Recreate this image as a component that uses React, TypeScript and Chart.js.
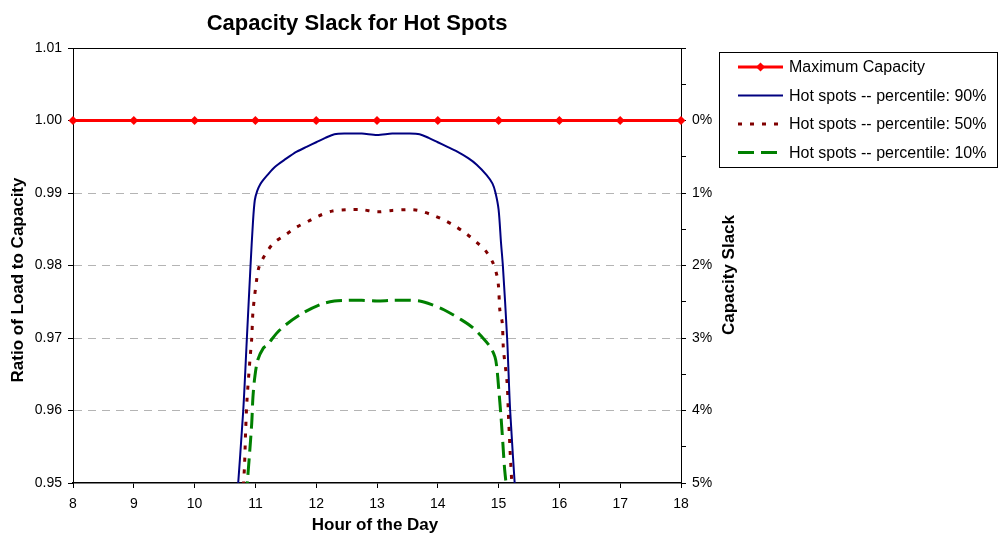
import { useEffect, useRef } from 'react';
import { Chart, registerables } from 'chart.js';

Chart.register(...registerables);

// ---------- data ----------
const capacityHours = [8, 9, 10, 11, 12, 13, 14, 15, 16, 17, 18];
const capacityValues = [1.0, 1.0, 1.0, 1.0, 1.0, 1.0, 1.0, 1.0, 1.0, 1.0, 1.0];

const p90Hours = [10.70, 10.80, 10.86, 10.92, 10.96, 10.99, 11.03, 11.08, 11.13, 11.20, 11.32, 11.50, 11.68, 11.85, 12.00, 12.15, 12.30, 12.50, 12.75, 13.00, 13.25, 13.50, 13.70, 13.85, 14.00, 14.15, 14.32, 14.50, 14.64, 14.80, 14.90, 14.95, 15.00, 15.04, 15.07, 15.14, 15.19, 15.28];
const p90Values = [0.9480, 0.9600, 0.9700, 0.9800, 0.9860, 0.9890, 0.9903, 0.9912, 0.9918, 0.9925, 0.9936, 0.9947, 0.9957, 0.9964, 0.9970, 0.9976, 0.9981, 0.9982, 0.9982, 0.9980, 0.9982, 0.9982, 0.9981, 0.9976, 0.9970, 0.9964, 0.9957, 0.9948, 0.9939, 0.9925, 0.9913, 0.9900, 0.9877, 0.9831, 0.9800, 0.9700, 0.9600, 0.9480];

const p50Hours = [10.79, 10.82, 10.84, 10.86, 10.91, 10.94, 10.96, 11.02, 11.06, 11.16, 11.30, 11.49, 11.68, 11.87, 12.03, 12.26, 12.50, 12.75, 13.00, 13.25, 13.50, 13.67, 13.90, 14.07, 14.25, 14.45, 14.64, 14.78, 14.90, 14.97, 15.00, 15.02, 15.06, 15.08, 15.14, 15.16, 15.19, 15.23];
const p50Values = [0.9480, 0.9522, 0.9573, 0.9612, 0.9670, 0.9700, 0.9736, 0.9780, 0.9798, 0.9815, 0.9831, 0.9842, 0.9853, 0.9861, 0.9868, 0.9875, 0.9877, 0.9877, 0.9874, 0.9876, 0.9877, 0.9876, 0.9870, 0.9864, 0.9856, 0.9845, 0.9832, 0.9821, 0.9805, 0.9787, 0.9770, 0.9739, 0.9721, 0.9684, 0.9638, 0.9597, 0.9543, 0.9480];

const p10Hours = [10.85, 10.87, 10.90, 10.94, 10.96, 10.99, 11.04, 11.13, 11.19, 11.40, 11.73, 12.06, 12.30, 12.50, 12.75, 13.00, 13.25, 13.50, 13.70, 13.90, 14.10, 14.39, 14.58, 14.72, 14.86, 14.94, 14.97, 15.00, 15.04, 15.07, 15.10, 15.15];
const p10Values = [0.9480, 0.9504, 0.9536, 0.9583, 0.9619, 0.9646, 0.9670, 0.9686, 0.9690, 0.9711, 0.9732, 0.9746, 0.9751, 0.9752, 0.9752, 0.9751, 0.9752, 0.9752, 0.9751, 0.9746, 0.9739, 0.9725, 0.9714, 0.9702, 0.9688, 0.9674, 0.9660, 0.9632, 0.9591, 0.9555, 0.9518, 0.9480];

const seriesNames = [
  'Maximum Capacity',
  'Hot spots -- percentile: 90%',
  'Hot spots -- percentile: 50%',
  'Hot spots -- percentile: 10%',
];
const chartTitle = 'Capacity Slack for Hot Spots';
const xTitle = 'Hour of the Day';
const yTitle = 'Ratio of Load to Capacity';
const y2Title = 'Capacity Slack';

const FONT = "'Liberation Sans', Arial, Helvetica, sans-serif";

const pts = (xs: number[], ys: number[]) => xs.map((x, i) => ({ x, y: ys[i] }));

const near = (a: number, b: number) => Math.abs(a - b) < 1e-6;

const decorPlugin = {
  id: 'decor',
  afterDraw(chart: any) {
    const { ctx, chartArea } = chart;
    ctx.save();
    // top border of plot
    ctx.strokeStyle = '#000';
    ctx.lineWidth = 1;
    ctx.beginPath();
    ctx.moveTo(chartArea.left - 5, chartArea.top + 0.5);
    ctx.lineTo(chartArea.right + 5, chartArea.top + 0.5);
    ctx.stroke();

    // chart title
    ctx.fillStyle = '#000';
    ctx.textAlign = 'center';
    ctx.textBaseline = 'middle';
    ctx.font = `bold 22px ${FONT}`;
    ctx.fillText(chartTitle, 357, 24);

    // axis titles
    ctx.font = `bold 17px ${FONT}`;
    ctx.fillText(xTitle, 375, 525);
    ctx.save();
    ctx.translate(18, 280);
    ctx.rotate(-Math.PI / 2);
    ctx.fillText(yTitle, 0, 0);
    ctx.restore();
    ctx.save();
    ctx.translate(729, 275);
    ctx.rotate(-Math.PI / 2);
    ctx.fillText(y2Title, 0, 0);
    ctx.restore();

    // legend
    const bx = 719.5, by = 52.5, bw = 278, bh = 115;
    ctx.strokeStyle = '#000';
    ctx.lineWidth = 1;
    ctx.strokeRect(bx, by, bw, bh);
    const rows = [67, 95.5, 124, 152.5];
    const styles = [
      { color: '#ff0000', width: 3, dash: [] as number[] },
      { color: '#000080', width: 2, dash: [] as number[] },
      { color: '#800000', width: 3, dash: [4, 8] },
      { color: '#008000', width: 3, dash: [16, 7] },
    ];
    ctx.font = `16px ${FONT}`;
    ctx.textAlign = 'left';
    rows.forEach((ry, i) => {
      const s = styles[i];
      ctx.save();
      ctx.strokeStyle = s.color;
      ctx.lineWidth = s.width;
      ctx.setLineDash(s.dash);
      ctx.beginPath();
      ctx.moveTo(738, ry);
      ctx.lineTo(783, ry);
      ctx.stroke();
      ctx.restore();
      if (i === 0) {
        ctx.fillStyle = '#ff0000';
        ctx.beginPath();
        ctx.moveTo(760.5, ry - 4.5);
        ctx.lineTo(765, ry);
        ctx.lineTo(760.5, ry + 4.5);
        ctx.lineTo(756, ry);
        ctx.closePath();
        ctx.fill();
      }
      ctx.fillStyle = '#000';
      ctx.fillText(seriesNames[i], 789, ry + 1);
    });
    ctx.restore();
  },
};

export default function App() {
  const ref = useRef<HTMLCanvasElement | null>(null);

  useEffect(() => {
    if (!ref.current) return;
    Chart.defaults.font.family = FONT;
    Chart.defaults.color = '#000';
    const chart = new Chart(ref.current, {
      type: 'line',
      data: {
        datasets: [
          {
            label: seriesNames[0],
            data: pts(capacityHours, capacityValues),
            borderColor: '#ff0000',
            backgroundColor: '#ff0000',
            borderWidth: 3,
            pointStyle: 'rectRot',
            pointRadius: 4.5,
            pointBorderWidth: 0,
            pointBackgroundColor: '#ff0000',
            clip: false,
          } as any,
          {
            label: seriesNames[1],
            data: pts(p90Hours, p90Values),
            borderColor: '#000080',
            borderWidth: 2,
            pointRadius: 0,
            tension: 0.3,
          },
          {
            label: seriesNames[2],
            data: pts(p50Hours, p50Values),
            borderColor: '#800000',
            borderWidth: 3,
            borderDash: [4, 8],
            pointRadius: 0,
            tension: 0.3,
          },
          {
            label: seriesNames[3],
            data: pts(p10Hours, p10Values),
            borderColor: '#008000',
            borderWidth: 3,
            borderDash: [16, 7],
            pointRadius: 0,
            tension: 0.3,
          },
        ],
      },
      options: {
        responsive: false,
        animation: false,
        events: [],
        layout: { padding: { top: 48, left: 0, right: 253, bottom: 0 } },
        plugins: {
          legend: { display: false },
          title: { display: false },
          tooltip: { enabled: false },
        },
        scales: {
          x: {
            type: 'linear',
            position: 'bottom',
            min: 8,
            max: 18,
            ticks: { stepSize: 1, color: '#000', font: { size: 14 }, padding: 8, maxRotation: 0 },
            grid: { drawOnChartArea: false, tickColor: '#000', tickLength: 5 },
            border: { color: '#000', width: 1.5 },
            afterFit: (s: any) => { s.height = 52; },
          },
          y: {
            type: 'linear',
            position: 'left',
            min: 0.95,
            max: 1.01,
            ticks: {
              stepSize: 0.01,
              color: '#000',
              font: { size: 14 },
              padding: 6,
              callback: (v: any) => Number(v).toFixed(2),
            },
            grid: {
              color: (c: any) => {
                const v = c.tick ? c.tick.value : 0;
                return near(v, 0.95) || near(v, 1.01) ? 'rgba(0,0,0,0)' : '#b4b4b4';
              },
              tickColor: '#000',
              tickLength: 5,
              tickBorderDash: [],
            },
            border: { color: '#000', width: 1, dash: [8, 6] },
            afterFit: (s: any) => { s.width = 73; },
          },
          y2: {
            type: 'linear',
            position: 'right',
            min: 0.95,
            max: 1.01,
            ticks: {
              stepSize: 0.005,
              color: '#000',
              font: { size: 14 },
              padding: 6,
              callback: (v: any) => {
                const p = Math.round((1 - Number(v)) * 1000) / 10;
                if (p < 0) return '';
                return Number.isInteger(p) ? `${p}%` : '';
              },
            },
            grid: { drawOnChartArea: false, tickColor: '#000', tickLength: 5 },
            border: { color: '#000', width: 1 },
            afterFit: (s: any) => { s.width = 64; },
          },
        },
      } as any,
      plugins: [decorPlugin],
    });
    return () => chart.destroy();
  }, []);

  return (
    <div style={{ position: 'fixed', left: 0, top: 0, width: 998, height: 535, background: '#fff' }}>
      <canvas ref={ref} width={998} height={535} style={{ display: 'block', width: 998, height: 535 }} />
    </div>
  );
}
